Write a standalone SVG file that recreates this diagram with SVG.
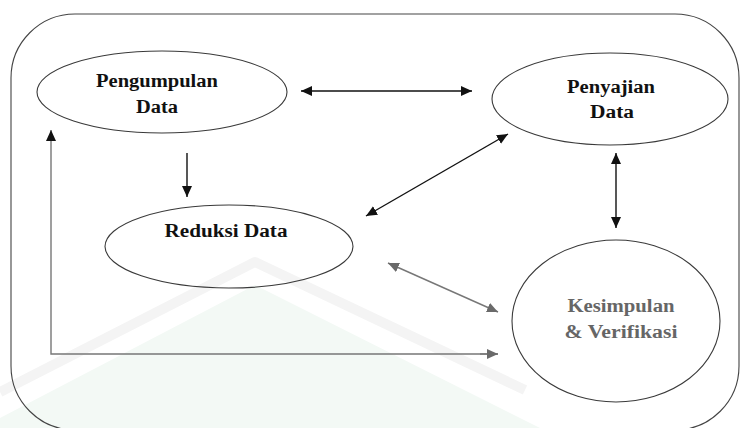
<svg xmlns="http://www.w3.org/2000/svg" width="742" height="428" viewBox="0 0 742 428">
<style>
.node{fill:none;stroke:#3a3a3a;stroke-width:1.1}
.lbl{font-family:'Liberation Serif','Times New Roman',serif;font-size:18px;font-weight:bold;fill:#111;text-anchor:middle}
.gray{fill:#666}
.conn{fill:none;stroke:#111;stroke-width:1.4}
.connG{fill:none;stroke:#777;stroke-width:1.4}
</style>
<defs>
<marker id="ah" markerUnits="userSpaceOnUse" markerWidth="12" markerHeight="10" refX="11" refY="5" orient="auto-start-reverse"><path d="M0,0 L11,5 L0,10 Z" fill="#111"/></marker>
<marker id="ahG" markerUnits="userSpaceOnUse" markerWidth="12" markerHeight="10" refX="11" refY="5" orient="auto-start-reverse"><path d="M0,0 L11,5 L0,10 Z" fill="#6a6a6a"/></marker>
</defs>
<rect width="742" height="428" fill="#fff"/>
<g id="watermark">
<path d="M0,440 L0,418 L255,285 L540,428 L540,440 Z" fill="#f3f9f5"/>
<path d="M0,392 L255,262 L525,390" fill="none" stroke="#f4f4f4" stroke-width="10" stroke-linejoin="round"/>
</g>
<rect id="frame" x="11" y="14" width="728" height="416" rx="64" ry="64" fill="none" stroke="#444" stroke-width="1.1"/>
<g id="connectors">
<line class="conn" x1="301" y1="91" x2="472" y2="91" marker-start="url(#ah)" marker-end="url(#ah)"/>
<line class="conn" x1="187" y1="153" x2="187" y2="197" marker-end="url(#ah)"/>
<line class="conn" x1="366" y1="216" x2="508" y2="134" marker-start="url(#ah)" marker-end="url(#ah)"/>
<line class="conn" x1="616" y1="153" x2="616" y2="228" marker-start="url(#ah)" marker-end="url(#ah)"/>
<line class="connG" x1="388" y1="263" x2="498" y2="312" marker-start="url(#ahG)" marker-end="url(#ahG)"/>
<polyline class="connG" points="498,354 51,354 51,130" marker-end="url(#ah)"/>
<line x1="480" y1="354" x2="498" y2="354" stroke="#777" stroke-width="1.4" marker-end="url(#ahG)"/>
</g>
<g id="pengumpulan">
<ellipse class="node" cx="162" cy="92" rx="125" ry="41"/>
<text class="lbl" x="157" y="87" textLength="122" lengthAdjust="spacingAndGlyphs">Pengumpulan</text>
<text class="lbl" x="157" y="113" textLength="42" lengthAdjust="spacingAndGlyphs">Data</text>
</g>
<g id="penyajian">
<ellipse class="node" cx="610" cy="99" rx="118" ry="46"/>
<text class="lbl" x="611" y="93" textLength="88" lengthAdjust="spacingAndGlyphs">Penyajian</text>
<text class="lbl" x="612" y="118" textLength="44" lengthAdjust="spacingAndGlyphs">Data</text>
</g>
<g id="reduksi">
<ellipse class="node" cx="229" cy="246.5" rx="124" ry="41.5"/>
<text class="lbl" x="226" y="237" textLength="123" lengthAdjust="spacingAndGlyphs">Reduksi Data</text>
</g>
<g id="kesimpulan">
<ellipse class="node" cx="616" cy="321" rx="104" ry="81" stroke="#555"/>
<text class="lbl gray" x="621" y="312" textLength="107" lengthAdjust="spacingAndGlyphs">Kesimpulan</text>
<text class="lbl gray" x="621" y="338" textLength="113" lengthAdjust="spacingAndGlyphs">&amp; Verifikasi</text>
</g>
</svg>
